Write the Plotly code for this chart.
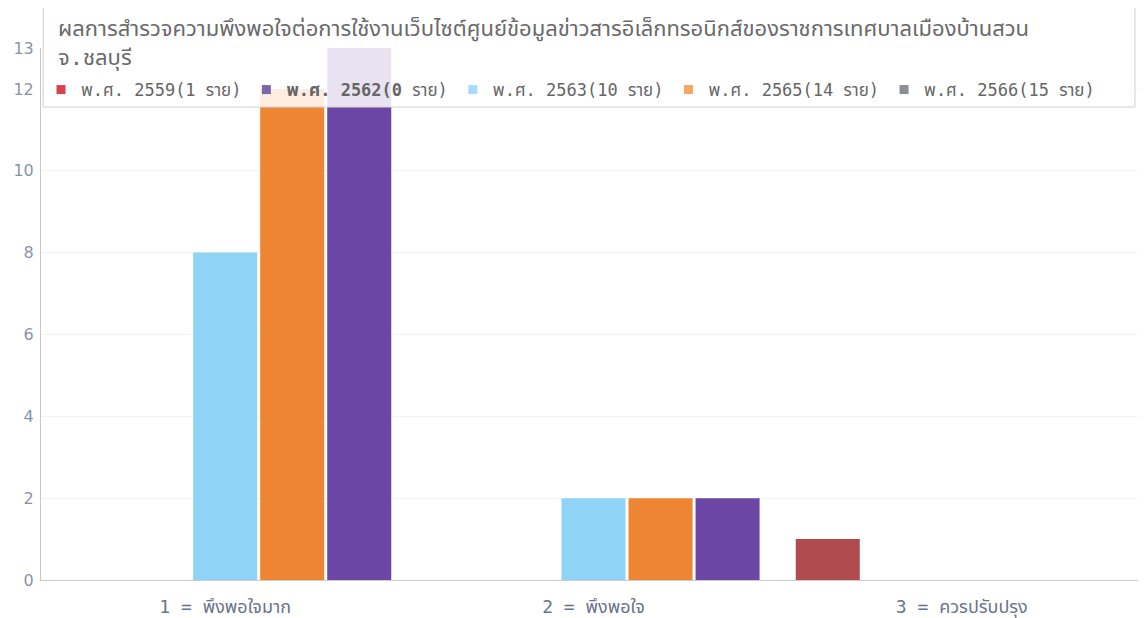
import plotly.graph_objects as go

categories = ["1 = พึงพอใจมาก", "2 = พึงพอใจ", "3 = ควรปรับปรุง"]
series_names = [
    "พ.ศ. 2559(1 ราย)",
    "<b>พ.ศ. 2562(0</b> ราย)",
    "พ.ศ. 2563(10 ราย)",
    "พ.ศ. 2565(14 ราย)",
    "พ.ศ. 2566(15 ราย)",
]
v2559 = [0, 0, 1]
v2562 = [0, 0, 0]
v2563 = [8, 2, 0]
v2565 = [12, 2, 0]
v2566 = [13, 2, 0]
series_values = [v2559, v2562, v2563, v2565, v2566]
y_ticks = [0, 2, 4, 6, 8, 10, 12, 13]
title_text = ("ผลการสำรวจความพึงพอใจต่อการใช้งานเว็บไซต์ศูนย์ข้อมูลข่าวสารอิเล็กทรอนิกส์ของราชการเทศบาลเมืองบ้านสวน"
              "<br>จ.ชลบุรี")

bar_colors = ["#b04c50", "#6c46a4", "#8fd3f7", "#ee8533", "#6c46a4"]
legend_colors = ["#d8434f", "#7a68a8", "#a6dcf7", "#f5a865", "#8a8e96"]

MONO = "DejaVu Sans Mono, Noto Sans Thai, sans-serif"
SANS = "DejaVu Sans, Noto Sans Thai, sans-serif"

fig = go.Figure()
for name, vals, col in zip(series_names, series_values, bar_colors):
    fig.add_trace(go.Bar(x=categories, y=vals, name=name, marker_color=col,
                         marker_line_width=0, showlegend=False))
for name, col in zip(series_names, legend_colors):
    fig.add_trace(go.Scatter(x=[categories[0]], y=[None], name=name, mode="markers",
                             marker=dict(symbol="square", size=9, color=col),
                             showlegend=True))

fig.update_layout(
    width=1138, height=610,
    margin=dict(l=33, r=0, t=40, b=36),
    paper_bgcolor="white", plot_bgcolor="white",
    barmode="group", bargap=0.09, bargroupgap=0.045,
    font=dict(family=MONO, color="#666666", size=16),
    xaxis=dict(range=[-0.5, 2.5], showgrid=False, showline=True, linecolor="#cccccc",
               linewidth=1, ticks="", ticklabelstandoff=10,
               tickfont=dict(family=MONO, size=18, color="#6b7388")),
    yaxis=dict(range=[0, 13], tickvals=y_ticks, showgrid=True, gridcolor="#f3f3f3",
               showline=True, linecolor="#c8c8c8", zeroline=False, ticks="",
               ticklabelstandoff=3,
               tickfont=dict(family=SANS, size=16, color="#8c93a8")),
    legend=dict(orientation="h", x=0.0, xanchor="left", y=0.921, yanchor="middle",
                bgcolor="rgba(0,0,0,0)", font=dict(family=MONO, size=17, color="#666666"),
                itemwidth=30, tracegroupgap=0),
    shapes=[dict(type="rect", xref="paper", yref="paper", x0=0.002, x1=0.990,
                 y0=0.889, y1=1.077, fillcolor="rgba(255,255,255,0.85)",
                 line=dict(color="#d0d0d0", width=1), layer="above")],
    annotations=[dict(text=title_text, xref="paper", yref="paper", x=0.0135, y=1.064,
                      xanchor="left", yanchor="top", align="left", showarrow=False,
                      font=dict(family=MONO, size=22, color="#6a6a6a"))],
)

fig.write_html("out.html")
